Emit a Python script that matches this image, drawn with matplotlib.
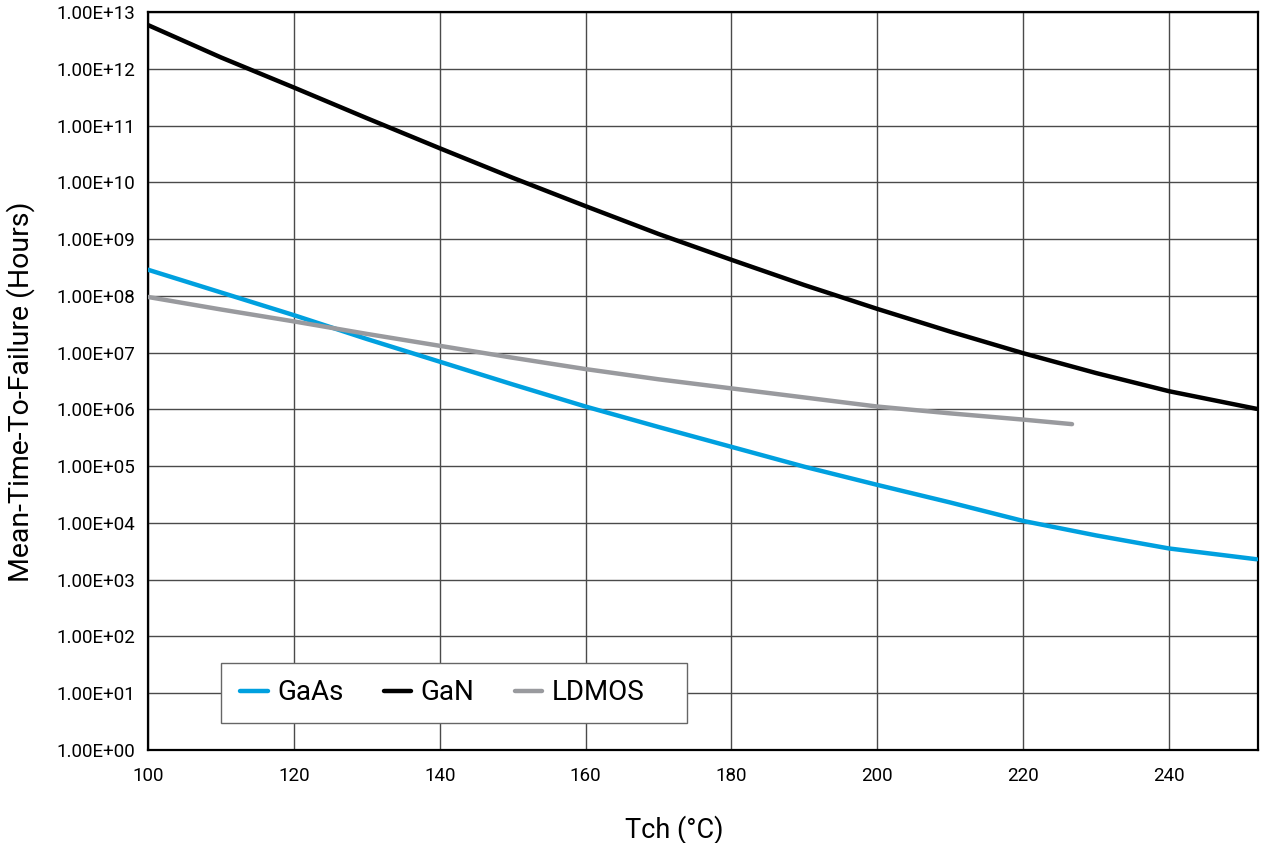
import matplotlib
matplotlib.use("Agg")
import matplotlib.pyplot as plt
from matplotlib.patches import Rectangle
import numpy as np

# Channel temperature (°C)
tch_main = [100, 110, 120, 130, 140, 150, 160, 170, 180, 190, 200, 210, 220, 230, 240, 252]
tch_ldmos = [100, 110, 120, 130, 140, 150, 160, 170, 180, 190, 200, 210, 220, 226.7]

# log10 of MTTF (hours)
gaas_log = [8.46, 8.06, 7.66, 7.24, 6.84, 6.44, 6.05, 5.69, 5.34, 4.99, 4.67, 4.36, 4.035, 3.78, 3.55, 3.36]
gan_log = [12.77, 12.20, 11.67, 11.13, 10.60, 10.08, 9.58, 9.09, 8.635, 8.19, 7.77, 7.37, 6.99, 6.64, 6.32, 6.01]
ldmos_log = [7.98, 7.76, 7.55, 7.33, 7.12, 6.91, 6.71, 6.53, 6.37, 6.21, 6.05, 5.93, 5.82, 5.74]

x_ticks = [100, 120, 140, 160, 180, 200, 220, 240]
y_exps = list(range(0, 14))
y_tick_labels = [f"1.00E+{k:02d}" for k in y_exps]

series_names = ["GaAs", "GaN", "LDMOS"]
colors = ["#00A0DF", "#000000", "#999a9e"]

plt.rcParams['font.family'] = ['Roboto', 'DejaVu Sans']

fig = plt.figure(figsize=(12.61, 8.43), dpi=100)
ax = fig.add_axes([148/1261, (843-750)/843, 1110/1261, 738/843])

gaas = [10**v for v in gaas_log]
gan = [10**v for v in gan_log]
ldmos = [10**v for v in ldmos_log]

ax.plot(tch_main, gaas, color=colors[0], lw=3.2, label=series_names[0], solid_capstyle='round', zorder=3)
ax.plot(tch_main, gan, color=colors[1], lw=3.2, label=series_names[1], solid_capstyle='round', zorder=3)
ax.plot(tch_ldmos, ldmos, color=colors[2], lw=3.2, label=series_names[2], solid_capstyle='round', zorder=3)

ax.set_yscale('log')
ax.set_ylim(1, 1e13)
ax.set_xlim(100, 252.2)
ax.set_yticks([10**k for k in y_exps])
ax.set_yticklabels(y_tick_labels)
ax.yaxis.set_minor_locator(matplotlib.ticker.NullLocator())
ax.set_xticks(x_ticks)
ax.set_xticklabels([str(v) for v in x_ticks])

ax.grid(True, which='major', color='#4a4a4a', lw=1.0)
ax.set_axisbelow(True)
ax.tick_params(axis='both', length=0, labelsize=13.5, colors='black')
ax.tick_params(axis='y', pad=9)
ax.tick_params(axis='x', pad=12)

for s in ax.spines.values():
    s.set_color('black')
    s.set_linewidth(1.6)

ax.set_xlabel("Tch (°C)", fontsize=19.5)
ax.xaxis.set_label_coords((674-148)/1110, -(830-750)/738)
ax.xaxis.label.set_va('center')
ax.set_ylabel("Mean-Time-To-Failure (Hours)", fontsize=20.5)
ax.yaxis.set_label_coords(-(148-21)/1110, (750-392)/738)
ax.yaxis.label.set_va('center')

# legend box
ax.add_patch(Rectangle((0.0655, 0.0366), 0.42, 0.0813, transform=ax.transAxes,
                       facecolor='white', edgecolor='#666666', lw=1.0, zorder=4))
leg = ax.legend(loc='center left', bbox_to_anchor=((240-148)/1110, (750-693)/738),
                ncol=3, fontsize=20, frameon=False,
                borderaxespad=0, borderpad=0, handlelength=1.0, handletextpad=0.33,
                columnspacing=1.45)
leg.set_zorder(5)

fig.savefig("out.png", dpi=100)
